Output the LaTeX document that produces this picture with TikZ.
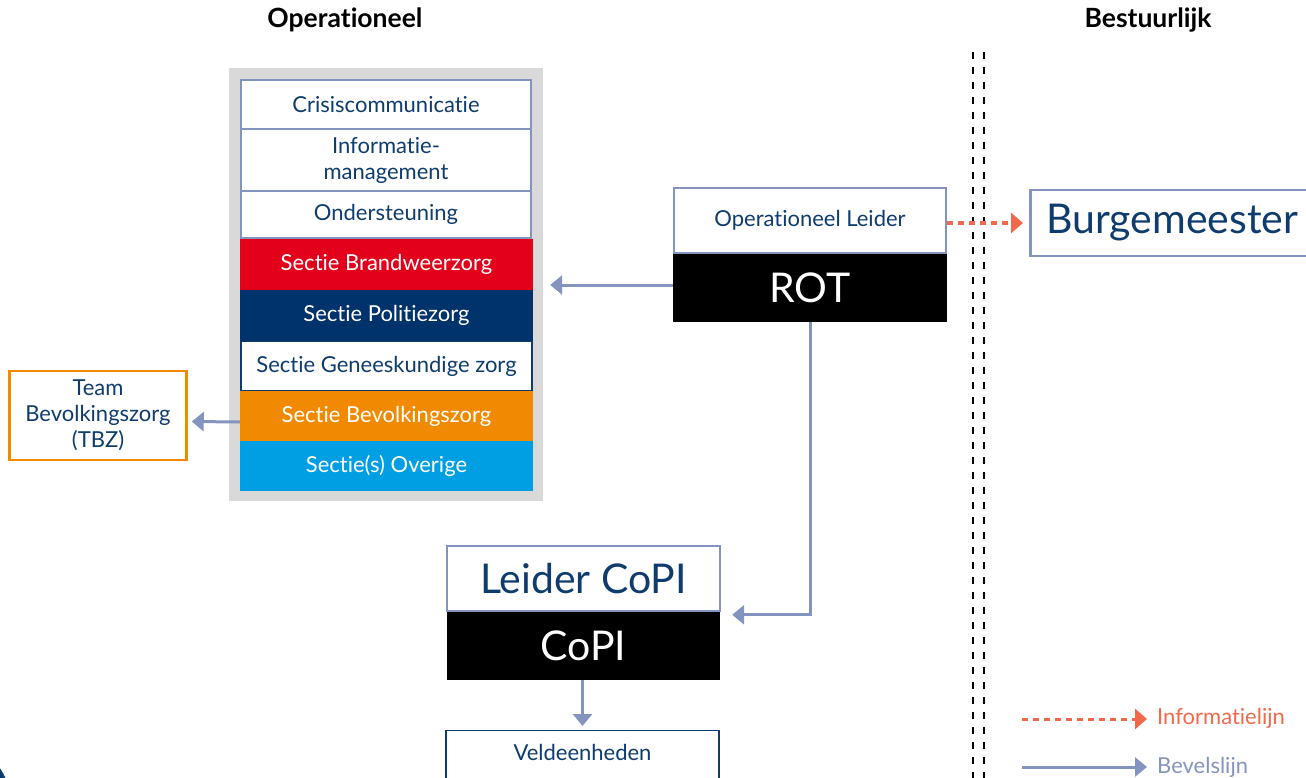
\documentclass[tikz,border=0pt]{standalone}
\usepackage{fontspec}
\setmainfont{Lato}[RawFeature={-liga;-dlig;-calt}]
\usetikzlibrary{arrows.meta}
\definecolor{lav}{HTML}{8494C0}
\definecolor{navytxt}{HTML}{0F3C6E}
\definecolor{secred}{HTML}{E2001A}
\definecolor{secnavy}{HTML}{00326B}
\definecolor{secorange}{HTML}{F18A00}
\definecolor{seccyan}{HTML}{009FE3}
\definecolor{panelgray}{HTML}{D9D9D9}
\definecolor{infoorange}{HTML}{F0694A}
\newcommand\fSecText{\fontsize{22}{26}\selectfont}
\newcommand\fBigText{\fontsize{41}{46}\selectfont}
\newcommand\fTitle{\fontsize{26.5}{30}\selectfont\bfseries}
\tikzset{
  lavbox/.style={draw=lav, line width=2.5pt, fill=white, text=navytxt, inner sep=0pt, align=center, font=\fSecText},
  colbox/.style={fill=#1, draw=none, text=white, inner sep=0pt, align=center, font=\fSecText},
  navybox/.style={draw=navytxt, line width=1.3pt, fill=white, text=navytxt, inner sep=0pt, align=center, font=\fSecText},
  blackbox/.style={fill=black, draw=none, text=white, inner sep=0pt, font=\fBigText},
  bevel/.style={draw=lav, line width=3pt, -{Triangle[length=12pt,width=19pt]}},
  infoline/.style={draw=infoorange, line width=3pt, dash pattern=on 6pt off 5pt, -{Triangle[length=12pt,width=20pt]}},
  sepline/.style={draw=black, line width=1.5pt, dash pattern=on 7pt off 8pt},
}
\begin{document}
\begin{tikzpicture}[x=1pt, y=-1pt]
\useasboundingbox (0,0) rectangle (1306,778);
% titles
\node[font=\fTitle] (tOp) at (345,20) {Operationeel};
\node[font=\fTitle] (tBe) at (1148,20) {Bestuurlijk};
% separator
\draw[sepline] (973,52) -- (973,790);
\draw[sepline] (984,52) -- (984,790);
% panel
\node[fill=panelgray, minimum width=314pt, minimum height=433pt, inner sep=0pt] (panel) at (386,284.5) {};
\node[lavbox, minimum width=290pt, minimum height=49pt] (crisis) at (386,104.5) {Crisiscommunicatie};
\node[lavbox, minimum width=290pt, minimum height=62pt] (info) at (386,160) {Informatie-\\management};
\node[lavbox, minimum width=290pt, minimum height=47pt] (onder) at (386,214.5) {Ondersteuning};
\node[colbox=secred, minimum width=293pt, minimum height=51pt] (brand) at (386.5,264.5) {Sectie Brandweerzorg};
\node[colbox=secnavy, minimum width=293pt, minimum height=51pt] (politie) at (386.5,315.5) {Sectie Politiezorg};
\node[navybox, minimum width=291pt, minimum height=49pt] (genees) at (386.5,366) {Sectie Geneeskundige zorg};
\node[colbox=secorange, minimum width=293pt, minimum height=50pt] (bevolk) at (386.5,416) {Sectie Bevolkingszorg};
\node[colbox=seccyan, minimum width=293pt, minimum height=50pt] (overige) at (386.5,466) {Sectie(s) Overige};
% TBZ
\node[draw=secorange, line width=2.5pt, fill=white, text=navytxt, align=center, font=\fSecText, inner sep=0pt, minimum width=177pt, minimum height=89pt] (tbz) at (98,415.5) {Team\\Bevolkingszorg\\(TBZ)};
\draw[bevel] ([yshift=-6pt]bevolk.west) -- ([yshift=-6pt,xshift=4pt]tbz.east);
% ROT
\node[lavbox, minimum width=272pt, minimum height=65pt] (opl) at (810,220.5) {Operationeel Leider};
\node[blackbox, minimum width=274pt, minimum height=68pt] (rot) at (810,288) {ROT};
\draw[bevel] ([yshift=3pt]rot.west) -- ([xshift=7pt,yshift=3pt]panel.east |- rot.west);
% Burgemeester
\node[lavbox, anchor=west, inner xsep=16pt, text width=300pt, align=left, minimum height=66pt, font=\fBigText] (burg) at (1029,223) {Burgemeester};
\draw[infoline] (opl.east |- burg.west) -- ([xshift=-6pt]burg.west);
% CoPI
\node[lavbox, minimum width=273pt, minimum height=65pt, font=\fBigText] (lcopi) at (583.5,578.5) {Leider CoPI};
\node[blackbox, minimum width=273pt, minimum height=68pt] (copi) at (583.5,646) {CoPI};
\draw[bevel] (rot.south) |- ([xshift=12pt,yshift=-3pt]copi.north east);
\node[navybox, anchor=north, text height=30pt, text depth=40pt, minimum width=273pt] (veld) at (582.5,730) {Veldeenheden};
\draw[bevel] (copi.south -| veld.north) -- ([yshift=4pt]veld.north);
% legend
\coordinate (infoS) at (1022,719);
\coordinate (infoE) at (1147,719);
\coordinate (bevS) at (1022,767);
\coordinate (bevE) at (1147,767);
\draw[infoline] (infoS) -- (infoE);
\draw[bevel] (bevS) -- (bevE);
\node[anchor=west, text=infoorange, font=\fSecText, inner sep=0pt] (infoL) at (1157,718) {Informatielijn};
\node[anchor=west, text=lav, font=\fSecText, inner sep=0pt] (bevL) at (1157,767) {Bevelslijn};
% corner mark
\fill[navytxt] (-45,800) circle (55);
\end{tikzpicture}
\end{document}
